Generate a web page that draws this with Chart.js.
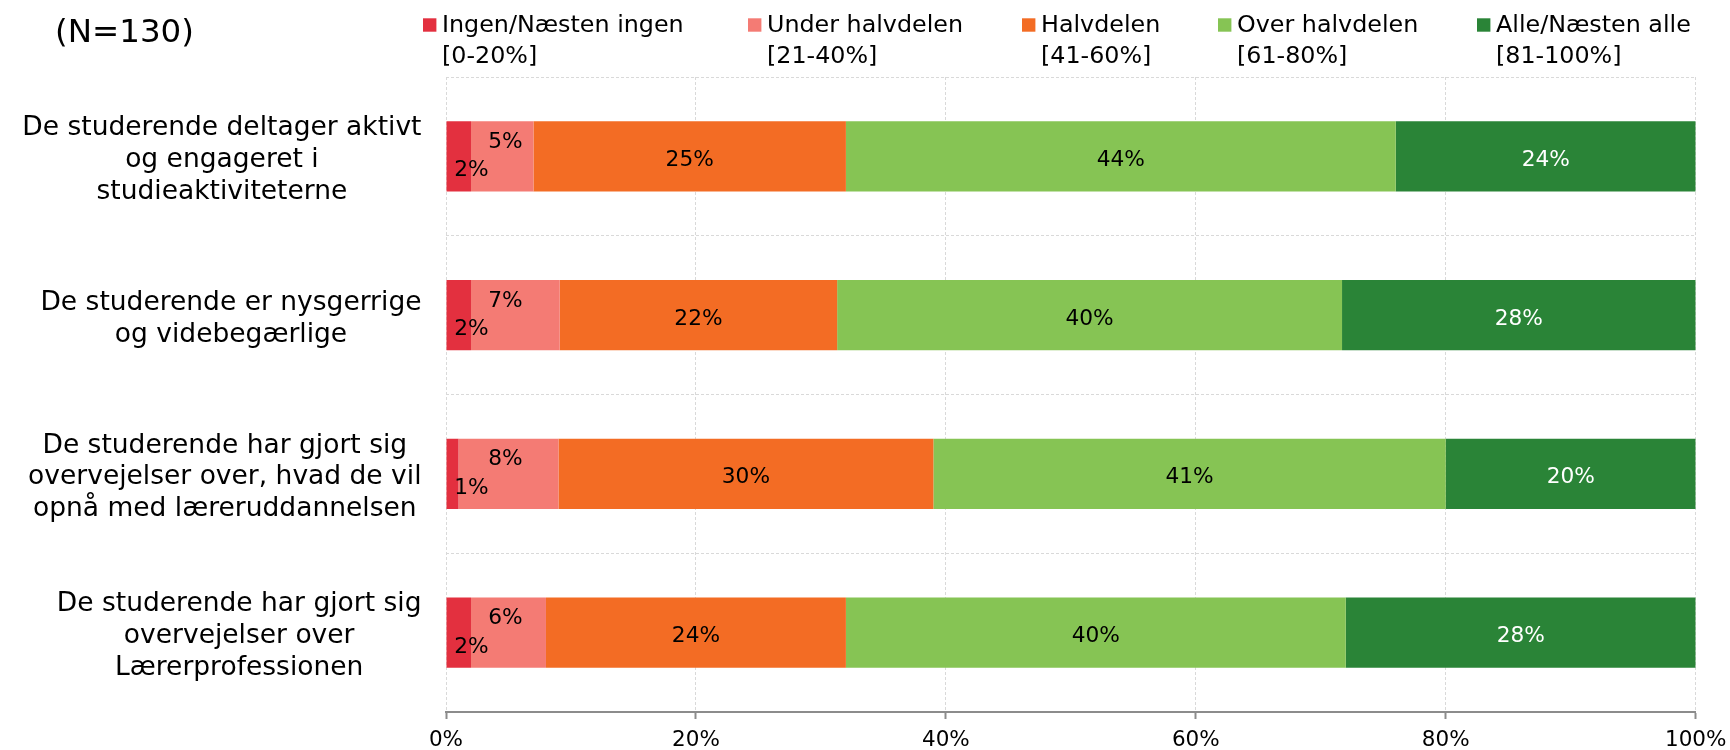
<!DOCTYPE html>
<html>
<head>
<meta charset="utf-8">
<script src="https://cdn.jsdelivr.net/npm/chart.js@4.4.1/dist/chart.umd.min.js"></script>
<style>
  html, body { margin: 0; padding: 0; background: #ffffff; }
  #wrap { width: 1730px; height: 750px; position: relative; }
</style>
</head>
<body>
<div id="wrap"><canvas id="c" width="1730" height="750"></canvas></div>
<script>
// ---- data ----
const sampleNote = "(N=130)";
const categories = [
  ["De studerende deltager aktivt", "og engageret i", "studieaktiviteterne"],
  ["De studerende er nysgerrige", "og videbegærlige"],
  ["De studerende har gjort sig", "overvejelser over, hvad de vil", "opnå med læreruddannelsen"],
  ["De studerende har gjort sig", "overvejelser over", "Lærerprofessionen"]
];
const seriesNames = [
  ["Ingen/Næsten ingen", "[0-20%]"],
  ["Under halvdelen", "[21-40%]"],
  ["Halvdelen", "[41-60%]"],
  ["Over halvdelen", "[61-80%]"],
  ["Alle/Næsten alle", "[81-100%]"]
];
const ingen = [2, 2, 1, 2];
const underHalvdelen = [5, 7.1, 8, 6];
const halvdelen = [25, 22.2, 30, 24];
const overHalvdelen = [44, 40.4, 41, 40];
const alle = [24, 28.3, 20, 28];
const xTicks = [0, 20, 40, 60, 80, 100];

// ---- styles ----
const FONT = "'DejaVu Sans', Verdana, sans-serif";
const colors = ["#E3303F", "#F47B74", "#F36C24", "#86C454", "#2A8437"];
const labelColors = ["#000", "#000", "#000", "#000", "#fff"];
const seriesValues = [ingen, underHalvdelen, halvdelen, overHalvdelen, alle];

const datasets = seriesValues.map((vals, i) => ({
  label: seriesNames[i].join(" "),
  data: vals,
  backgroundColor: colors[i],
  borderWidth: 0,
  categoryPercentage: 0.5,
  barPercentage: 0.885
}));

const textPlugin = {
  id: "textPlugin",
  afterDraw(chart) {
    const ctx = chart.ctx;
    const xs = chart.scales.x;
    const ys = chart.scales.y;
    ctx.save();

    // sample note
    ctx.fillStyle = "#000";
    ctx.font = "32.5px " + FONT;
    ctx.textAlign = "left";
    ctx.textBaseline = "alphabetic";
    ctx.fillText(sampleNote, 55, 41.7);

    // legend
    const legendX = [423, 748, 1022, 1218, 1477];
    ctx.font = "23.8px " + FONT;
    seriesNames.forEach((lines, i) => {
      ctx.fillStyle = colors[i];
      ctx.fillRect(legendX[i], 18.3, 13.4, 13.4);
      ctx.fillStyle = "#000";
      lines.forEach((t, k) => ctx.fillText(t, legendX[i] + 19, 32.3 + k * 30.5));
    });

    // category labels: block right-aligned, lines centered inside the block
    ctx.font = "26.5px " + FONT;
    ctx.textAlign = "center";
    const right = 421.5;
    categories.forEach((lines, idx) => {
      const cy = ys.getPixelForValue(idx);
      const w = Math.max(...lines.map(t => ctx.measureText(t).width));
      const cx = right - w / 2;
      const n = lines.length;
      lines.forEach((t, k) => {
        ctx.fillText(t, cx, cy + 10.5 + (k - (n - 1) / 2) * 31.8);
      });
    });

    // data labels
    ctx.font = "21.7px " + FONT;
    const x0 = xs.getPixelForValue(0);
    chart.data.datasets.forEach((ds, i) => {
      const meta = chart.getDatasetMeta(i);
      meta.data.forEach((bar, j) => {
        const v = ds.data[j];
        const txt = Math.round(v) + "%";
        let cx = (bar.x + bar.base) / 2;
        let dy = 1.7;
        if (i === 0) { cx = x0 + 25.5; dy = 12.2; }
        if (i === 1) { cx = x0 + 59.5; dy = -16.3; }
        ctx.fillStyle = labelColors[i];
        ctx.textAlign = "center";
        ctx.fillText(txt, cx, bar.y + dy + 7.9);
      });
    });
    ctx.restore();
  }
};

Chart.defaults.font.family = FONT;

new Chart(document.getElementById("c"), {
  type: "bar",
  data: { labels: categories, datasets: datasets },
  options: {
    indexAxis: "y",
    responsive: false,
    animation: false,
    events: [],
    layout: { padding: { left: 0, top: 77, right: 34.3, bottom: 0 } },
    plugins: { legend: { display: false }, tooltip: { enabled: false } },
    scales: {
      x: {
        stacked: true,
        min: 0, max: 100,
        afterBuildTicks(scale) { scale.ticks = xTicks.map(v => ({ value: v })); },
        afterFit(scale) { scale.height = 38; scale.paddingLeft = 0; scale.paddingRight = 0; },
        ticks: {
          callback: v => v + "%",
          color: "#000",
          font: { size: 21.5, family: FONT },
          padding: 9,
          maxRotation: 0
        },
        grid: {
          color: "#d9d9d9",
          lineWidth: 1,
          drawTicks: true,
          tickLength: 7,
          tickColor: "#8c8c8c",
          tickWidth: 2,
          tickBorderDash: []
        },
        border: { display: true, color: "#8c8c8c", width: 2, dash: [3, 2] }
      },
      y: {
        stacked: true,
        afterFit(scale) { scale.width = 446; },
        ticks: { display: false },
        grid: { color: "#d9d9d9", lineWidth: 1, drawTicks: false, offset: true },
        border: { display: false, dash: [3, 2] }
      }
    }
  },
  plugins: [textPlugin]
});
</script>
</body>
</html>
